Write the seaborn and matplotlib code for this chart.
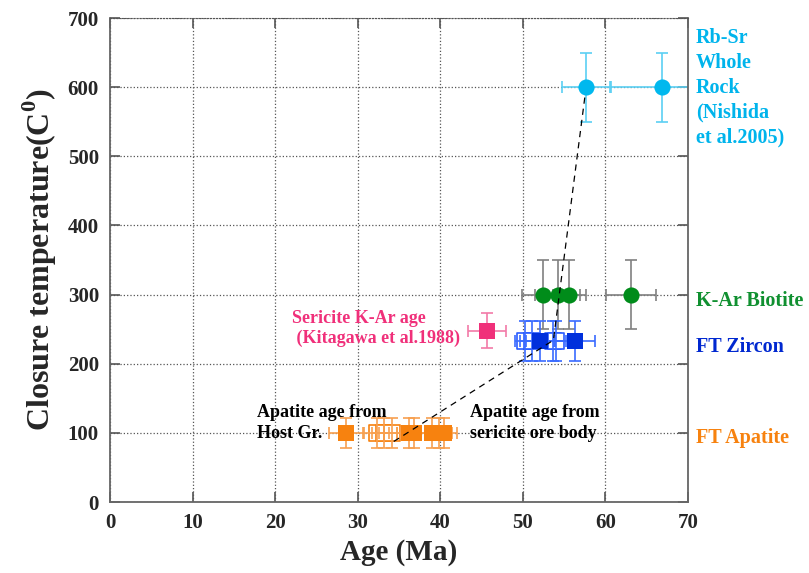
import pandas as pd
import seaborn as sns
import matplotlib.pyplot as plt

# ---------------- data ----------------
# Rb-Sr whole rock (Nishida et al. 2005)
rbsr_age = [57.6, 66.9]
rbsr_temp = [600, 600]
rbsr_age_err = [2.9, 6.2]
rbsr_temp_err = [50, 50]

# K-Ar biotite
kar_age = [52.4, 54.2, 55.6, 63.1]
kar_temp = [300, 300, 300, 300]
kar_age_err = [2.5, 2.7, 2.0, 3.0]
kar_temp_err = [50, 50, 50, 50]

# FT zircon (open = white squares, filled = solid squares)
zr_age = [50.2, 51.1, 53.6, 54.0, 52.1, 56.3]
zr_temp = [233, 233, 233, 233, 233, 233]
zr_filled = [False, False, False, False, True, True]
zr_age_err = [1.2, 1.4, 1.6, 1.5, 1.7, 2.4]
zr_temp_err = [29, 29, 29, 29, 29, 29]

# FT apatite
ap_age = [28.6, 32.3, 33.2, 34.1, 36.2, 36.8, 39.0, 39.8, 40.5]
ap_temp = [100, 100, 100, 100, 100, 100, 100, 100, 100]
ap_filled = [True, False, False, False, True, True, True, True, True]
ap_age_err = [2.1, 1.5, 1.5, 1.5, 1.5, 1.5, 1.6, 1.6, 1.5]
ap_temp_err = [22, 22, 22, 22, 22, 22, 22, 22, 22]

# sericite K-Ar age (Kitagawa et al. 1988)
ser_age = [45.7]
ser_temp = [248]
ser_age_err = [2.3]
ser_temp_err = [25]

# dashed cooling path
path_age = [57.5, 53.7, 33.9]
path_temp = [585, 234, 84]

right_labels = [
    (["Rb-Sr", "Whole", "Rock", "(Nishida", "et al.2005)"], 664, "#00B4EC"),
    (["K-Ar Biotite"], 283, "#109030"),
    (["FT Zircon"], 217, "#0028D0"),
    (["FT Apatite"], 85, "#F7820F"),
]

sns.set_style("ticks")
plt.rcParams["font.family"] = ["Liberation Serif", "DejaVu Serif"]
plt.rcParams["font.weight"] = "bold"
plt.rcParams["mathtext.fontset"] = "custom"
plt.rcParams["mathtext.rm"] = "Liberation Serif:bold"
plt.rcParams["mathtext.bf"] = "Liberation Serif:bold"

fig, ax = plt.subplots(figsize=(8.09, 5.73), dpi=100)
fig.subplots_adjust(left=110 / 809, right=688 / 809, bottom=1 - 502 / 573, top=1 - 18 / 573)

ax.grid(True, linestyle=":", color="#555555", linewidth=0.9)
ax.set_axisbelow(True)

CIRCLE = 135
SQUARE = 140


def err(x, y, xe, ye, color):
    ax.errorbar(x, y, xerr=xe, yerr=ye, fmt="none", ecolor=color,
                elinewidth=1.2, capsize=4, capthick=1.2, zorder=2)


# ---- Rb-Sr ----
err(rbsr_age, rbsr_temp, rbsr_age_err, rbsr_temp_err, "#5BD0F3")
sns.scatterplot(x=rbsr_age, y=rbsr_temp, ax=ax, color="#00B8EE", s=CIRCLE,
                marker="o", linewidth=0, zorder=3)

# ---- K-Ar biotite ----
err(kar_age, kar_temp, kar_age_err, kar_temp_err, "#808080")
sns.scatterplot(x=kar_age, y=kar_temp, ax=ax, color="#008C1A", s=CIRCLE,
                marker="o", linewidth=0, zorder=3)

# ---- FT zircon ----
zr = pd.DataFrame({"age": zr_age, "temp": zr_temp, "filled": zr_filled})
sns.scatterplot(data=zr[~zr.filled], x="age", y="temp", ax=ax, marker="s",
                s=SQUARE, facecolor="white", edgecolor="#2A5CFF", linewidth=1.2, zorder=1.5)
err(zr_age, zr_temp, zr_age_err, zr_temp_err, "#3A6BFF")
sns.scatterplot(data=zr[zr.filled], x="age", y="temp", ax=ax, marker="s",
                s=SQUARE, color="#0030DC", linewidth=0, zorder=3)

# ---- FT apatite ----
ap = pd.DataFrame({"age": ap_age, "temp": ap_temp, "filled": ap_filled})
sns.scatterplot(data=ap[~ap.filled], x="age", y="temp", ax=ax, marker="s",
                s=SQUARE, facecolor="white", edgecolor="#F7820F", linewidth=1.2, zorder=1.5)
err(ap_age, ap_temp, ap_age_err, ap_temp_err, "#F7A050")
sns.scatterplot(data=ap[ap.filled], x="age", y="temp", ax=ax, marker="s",
                s=SQUARE, color="#F7820F", linewidth=0, zorder=3)

# ---- sericite ----
err(ser_age, ser_temp, ser_age_err, ser_temp_err, "#F27AA8")
sns.scatterplot(x=ser_age, y=ser_temp, ax=ax, color="#F0307A", s=SQUARE,
                marker="s", linewidth=0, zorder=3)

# ---- cooling path ----
ax.plot(path_age, path_temp, color="black", linestyle=(0, (5, 4)), linewidth=0.9, zorder=4)

# ---- axes ----
ax.set_xlim(0, 70)
ax.set_ylim(0, 700)
ax.set_xticks(range(0, 71, 10))
ax.set_yticks(range(0, 701, 100))
ax.tick_params(direction="in", length=7, width=1.2, color="#555555",
               top=True, right=True, labelsize=15, pad=8)
for lbl in ax.get_xticklabels() + ax.get_yticklabels():
    lbl.set_fontweight("bold")
for side in ["left", "bottom", "right"]:
    ax.spines[side].set_color("#666666")
    ax.spines[side].set_linewidth(1.3)
ax.spines["top"].set_linestyle(":")
ax.spines["top"].set_color("#555555")
ax.set_xlabel("Age (Ma)", fontsize=21, fontweight="bold", labelpad=4)
ax.set_ylabel("Closure temperature(C$^{\\mathbf{0}}$)", fontsize=23, fontweight="bold", labelpad=6)


def stacked(x, y, lines, step, **kw):
    for i, line in enumerate(lines):
        ax.text(x, y - i * step, line, va="baseline", ha="left", fontweight="bold", **kw)


yax = ax.get_yaxis_transform()
for lines, y0, col in right_labels:
    stacked(1.014, y0, lines, 36, transform=yax, color=col, fontsize=14.5, clip_on=False)

stacked(22.0, 259, ["Sericite K-Ar age", " (Kitagawa et al.1988)"], 29.5,
        color="#F0307A", fontsize=13)
stacked(17.8, 123, ["Apatite age from", "Host Gr."], 30, color="black", fontsize=13)
stacked(43.6, 123, ["Apatite age from", "sericite ore body"], 30, color="black", fontsize=13)

plt.savefig("out.png", dpi=100)
